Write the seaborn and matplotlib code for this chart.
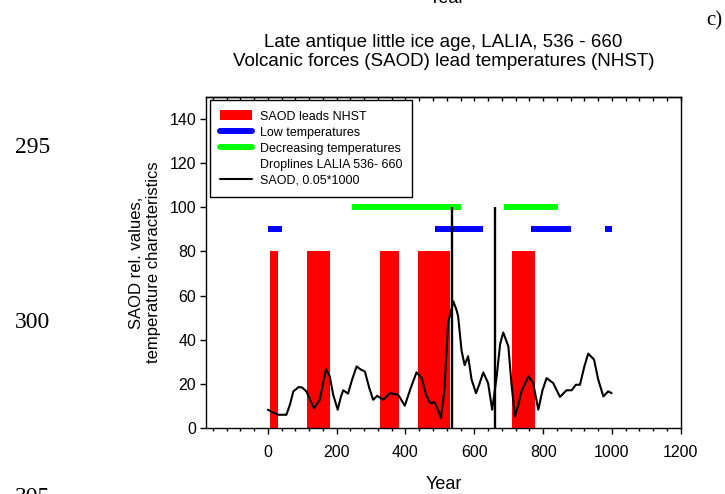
import matplotlib
matplotlib.use("Agg")
import matplotlib.pyplot as plt
from matplotlib.patches import Patch
from matplotlib.lines import Line2D
from matplotlib.ticker import MultipleLocator, NullFormatter
import seaborn as sns
import pandas as pd

# SAOD-lead periods (red), drawn to height 80
lead_start = [5, 115, 325, 435, 710]
lead_end = [30, 180, 380, 530, 775]
lead_height = 80

# Low temperature periods (blue) at level 90
low_start = [0, 485, 765, 980]
low_end = [40, 625, 880, 1000]
low_level = 90

# Decreasing temperature periods (green) at level 100
dec_start = [245, 685]
dec_end = [562, 843]
dec_level = 100

# LALIA droplines
drop_years = [536, 660]
drop_top = 100

# SAOD, scaled 0.05*1000
saod_year = [0, 15, 30, 54, 65, 74, 90, 100, 112, 125, 134, 151, 160, 169, 180,
             190, 203, 212, 219, 233, 245, 258, 270, 282, 295, 306, 318, 335,
             355, 379, 398, 415, 432, 447, 460, 471, 485, 495, 503, 513, 524,
             539, 548, 553, 563, 572, 582, 592, 605, 615, 626, 640, 652, 665,
             675, 684, 699, 708, 718, 727, 737, 757, 771, 786, 798, 810, 829,
             849, 868, 883, 895, 907, 920, 931, 948, 960, 975, 989, 999]
saod_val = [8.3, 7.0, 6.0, 6.0, 11.0, 16.6, 18.6, 18.3, 16.6, 12.0, 9.0, 12.8,
            20.0, 26.7, 23.4, 15.0, 8.3, 14.0, 17.1, 15.6, 22.0, 27.9, 26.5,
            25.6, 18.0, 12.8, 14.6, 12.8, 15.8, 15.0, 10.1, 18.0, 25.2, 22.6,
            15.0, 11.3, 11.6, 8.0, 4.5, 17.4, 47.6, 57.4, 53.6, 50.6, 35.0,
            28.5, 32.5, 22.0, 15.8, 20.0, 25.2, 20.4, 8.3, 23.4, 38.0, 43.3,
            37.0, 20.0, 5.3, 10.0, 16.6, 23.4, 20.4, 8.3, 17.0, 22.6, 20.4,
            14.1, 17.1, 17.1, 19.6, 19.6, 28.0, 33.7, 31.0, 22.0, 14.3, 16.6,
            15.8]

x_ticks = [0, 200, 400, 600, 800, 1000, 1200]
y_ticks = [0, 20, 40, 60, 80, 100, 120, 140]

sns.set_style("ticks")
plt.rcParams["font.family"] = ["Liberation Sans", "DejaVu Sans"]
plt.rcParams.update({"text.color": "black", "axes.labelcolor": "black",
                     "xtick.color": "black", "ytick.color": "black",
                     "axes.edgecolor": "black"})

fig = plt.figure(figsize=(7.25, 4.94), dpi=100)
ax = fig.add_axes([0.284, 0.1336, 0.655, 0.67])

# red lead periods
ax.bar(lead_start, [lead_height] * len(lead_start),
       width=[e - s for s, e in zip(lead_start, lead_end)],
       align="edge", color="#ff0000", linewidth=0, zorder=1)

# blue and green period bars
ax.hlines([low_level] * len(low_start), low_start, low_end, colors="#0000ff",
          linewidth=4.3, capstyle="butt", zorder=2)
ax.hlines([dec_level] * len(dec_start), dec_start, dec_end, colors="#00ff00",
          linewidth=4.3, capstyle="butt", zorder=2)

# SAOD curve
saod = pd.DataFrame({"Year": saod_year, "SAOD": saod_val})
sns.lineplot(data=saod, x="Year", y="SAOD", ax=ax, color="black",
             linewidth=1.5, zorder=3)

# droplines
ax.vlines(drop_years, 0, drop_top, colors="black", linewidth=1.7, zorder=4)

ax.set_xlim(-180, 1200)
ax.set_ylim(0, 150)
ax.set_xticks(x_ticks)
ax.set_yticks(y_ticks)
ax.xaxis.set_minor_locator(MultipleLocator(40))
ax.tick_params(axis="both", which="major", labelsize=11.5, length=4,
               width=1, color="black", direction="out", pad=8)
ax.tick_params(axis="x", which="minor", length=2.5, width=1, direction="out")
ax.tick_params(axis="y", which="major", pad=3)
for sp in ax.spines.values():
    sp.set_visible(True)
    sp.set_color("black")
    sp.set_linewidth(1.0)

# inward minor ticks along the top edge
top = ax.secondary_xaxis("top")
top.set_xticks([])
top.xaxis.set_minor_locator(MultipleLocator(40))
top.xaxis.set_minor_formatter(NullFormatter())
top.tick_params(which="minor", direction="in", length=3, width=1)
top.spines["top"].set_linewidth(1.0)

ax.set_xlabel("Year", fontsize=13, labelpad=12)
ax.set_ylabel("SAOD rel. values,\ntemperature characteristics", fontsize=12,
              labelpad=6, linespacing=1.2)
ax.set_title("Late antique little ice age, LALIA, 536 - 660\n"
             "Volcanic forces (SAOD) lead temperatures (NHST)",
             fontsize=13.5, pad=22, linespacing=1.2)

handles = [
    Patch(facecolor="#ff0000", edgecolor="none"),
    Line2D([], [], color="#0000ff", linewidth=4.3),
    Line2D([], [], color="#00ff00", linewidth=4.3),
    Line2D([], [], color="none"),
    Line2D([], [], color="black", linewidth=1.5),
]
labels = ["SAOD leads NHST", "Low temperatures", "Decreasing temperatures",
          "Droplines LALIA 536- 660", "SAOD, 0.05*1000"]
leg = ax.legend(handles, labels, loc="upper left",
                bbox_to_anchor=(0.008, 0.99), borderaxespad=0, fontsize=9,
                handlelength=2.6, handleheight=0.85, labelspacing=0.3,
                handletextpad=0.6, borderpad=0.8, fancybox=False,
                framealpha=1, edgecolor="black")
leg.get_frame().set_linewidth(1.0)

# page decorations around the panel
fig.text(0.617, 1.0 - 3 / 494, "Year", fontsize=13, ha="center", va="baseline")
fig.text(0.996, 1.0 - 25 / 494, "c)", fontsize=15, ha="right", va="baseline",
         family="Liberation Serif")
for lbl, yb in [("295", 153), ("300", 328), ("305", 503)]:
    fig.text(0.02, 1.0 - yb / 494, lbl, fontsize=17, ha="left",
             va="baseline", family="Liberation Serif")

fig.savefig("out.png", dpi=100)
